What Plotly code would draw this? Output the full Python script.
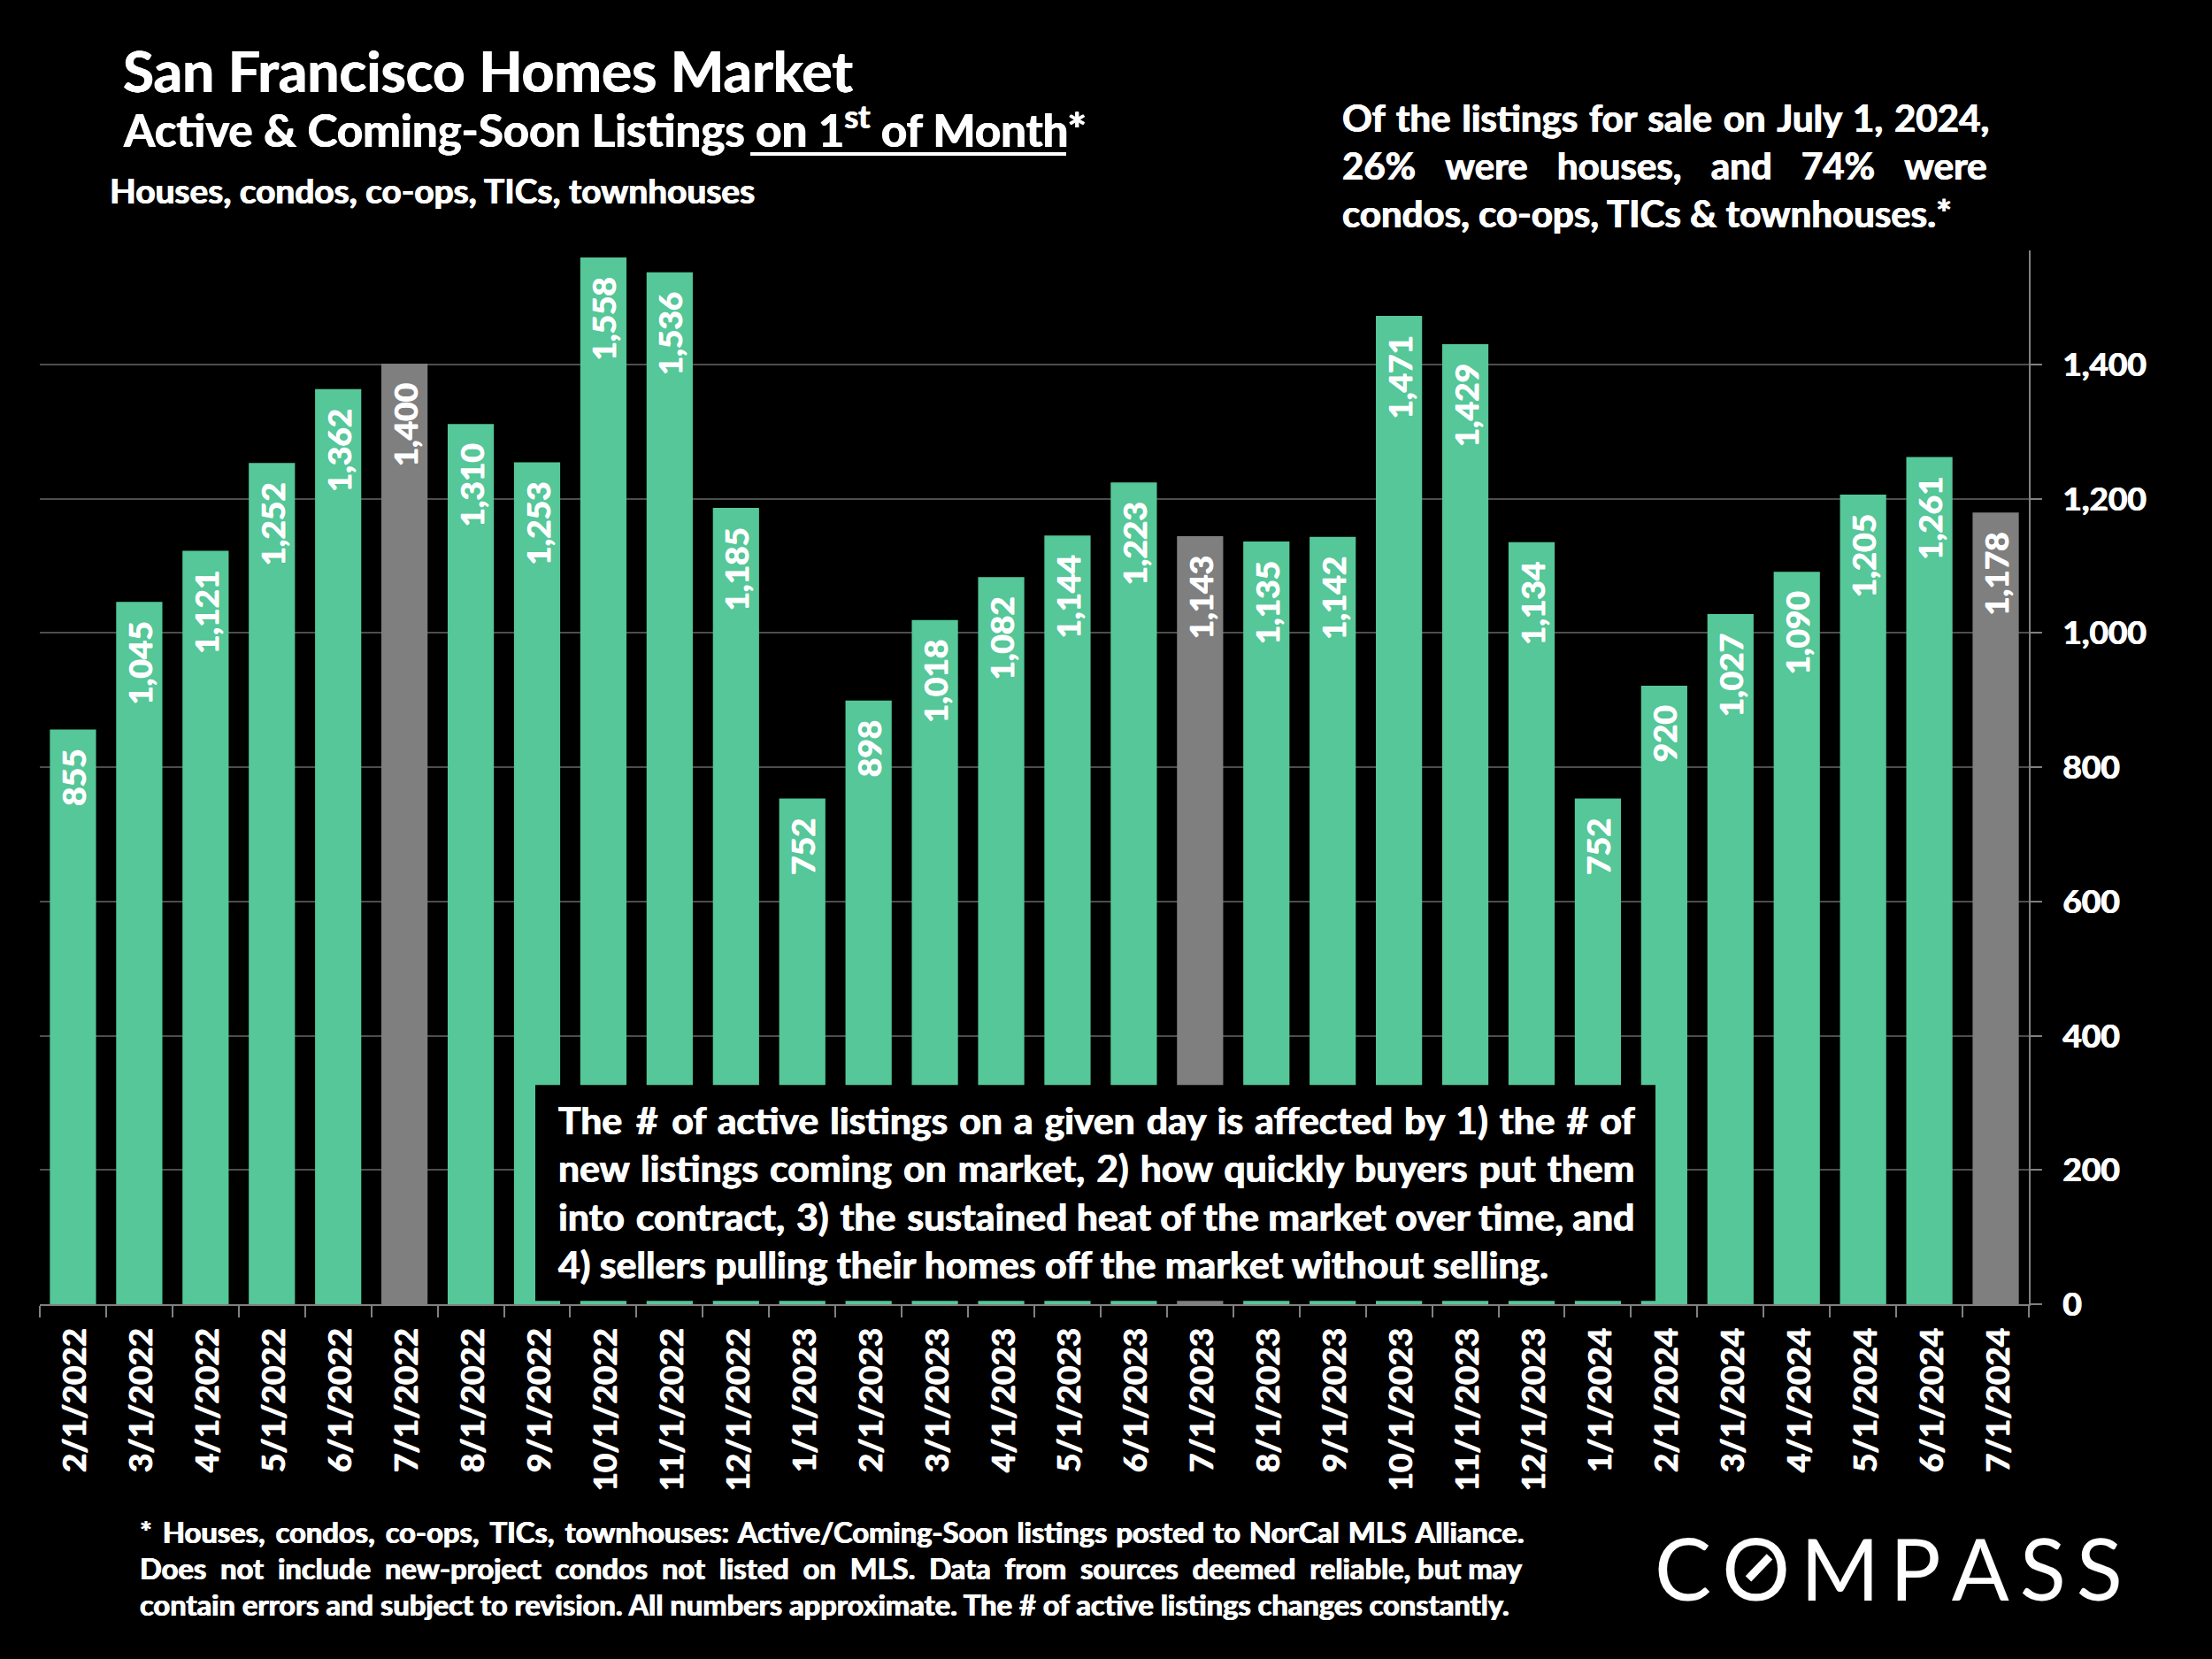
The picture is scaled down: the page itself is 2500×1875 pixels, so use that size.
import plotly.graph_objects as go

months = ["2/1/2022","3/1/2022","4/1/2022","5/1/2022","6/1/2022","7/1/2022","8/1/2022","9/1/2022","10/1/2022","11/1/2022","12/1/2022",
          "1/1/2023","2/1/2023","3/1/2023","4/1/2023","5/1/2023","6/1/2023","7/1/2023","8/1/2023","9/1/2023","10/1/2023","11/1/2023","12/1/2023",
          "1/1/2024","2/1/2024","3/1/2024","4/1/2024","5/1/2024","6/1/2024","7/1/2024"]
listings = [855,1045,1121,1252,1362,1400,1310,1253,1558,1536,1185,
            752,898,1018,1082,1144,1223,1143,1135,1142,1471,1429,1134,
            752,920,1027,1090,1205,1261,1178]
highlight_months = ["7/1/2022","7/1/2023","7/1/2024"]
y_ticks = [0,200,400,600,800,1000,1200,1400]

GREEN = "#55C798"; GREY = "#7F7F7F"
FONT = "Lato"
L, R, T, B = 45, 2293, 283, 1473.7
BOLDER = "0.6px 0 0 white, -0.6px 0 0 white"
def px(x): return (x-L)/(R-L)
def py(y): return (B-y)/(B-T)

HAIR = "\u200a"; NB = "\u00a0"
def sp(line, extra="", count=-1):
    return line.replace(" ", " " + extra, count)

colors = [GREY if m in highlight_months else GREEN for m in months]
fig = go.Figure(go.Bar(
    x=months, y=listings, marker=dict(color=colors, line=dict(color=colors, width=2)),
    texttemplate="%{y:,}\u00a0\u00a0", textposition="inside", insidetextanchor="end",
    textangle=-90, constraintext="none", cliponaxis=False,
    insidetextfont=dict(family=FONT, size=37, color="white", weight=700, shadow=BOLDER), hoverinfo="skip"))

texts = [
 ("San Francisco Homes Market", 137, 80, 64),
 ("Active & Coming-Soon Listings on 1<sup>st</sup> of Month*", 137, 144, 51.1),
 ("Houses, condos, co-ops, TICs, townhouses", 122, 215, 38.8),
 (sp("Of the listings for sale on July 1, 2024,", HAIR), 1515, 133, 42),
 (sp("26% were houses, and 74% were", NB*2+HAIR), 1515, 187, 42),
 ("condos, co-ops, TICs & townhouses.*", 1515, 241, 42),
 (sp(sp("The # of active listings on a given day is affected by 1) the # of", HAIR), HAIR, 2), 629, 1265, 42.7),
 (sp("new listings coming on market, 2) how quickly buyers put them", HAIR), 629, 1319, 42.7),
 (sp("into contract, 3) the sustained heat of the market over time, and", HAIR, 4), 629, 1374, 42.7),
 ("4) sellers pulling their homes off the market without selling.", 629, 1428, 42.7),
 (sp(sp("* Houses, condos, co-ops, TICs, townhouses: Active/Coming-Soon listings posted to NorCal MLS Alliance.", HAIR), HAIR, 5), 156, 1731, 32.7),
 (sp("Does not include new-project condos not listed on MLS. Data from sources deemed reliable, but may", NB, 13), 156, 1772, 32.7),
 ("contain errors and subject to revision. All numbers approximate. The # of active listings changes constantly.", 156, 1813, 32.7),
]
annos = [dict(text=t, x=px(x), y=py(y), xref="paper", yref="paper", xanchor="left", yanchor="middle",
              showarrow=False, align="left", font=dict(family=FONT, size=s, color="white", weight=700, shadow=BOLDER))
         for t, x, y, s in texts]
annos.append(dict(text="\u2009".join("COMPASS"), x=px(1868), y=py(1771), xref="paper", yref="paper",
                  xanchor="left", yanchor="middle", showarrow=False, font=dict(family=FONT, size=96, color="white", weight=400)))

shapes = [
 dict(type="rect", xref="paper", yref="paper", x0=px(605), x1=px(1871), y0=py(1470), y1=py(1226),
      fillcolor="black", line=dict(width=0), layer="above"),
 dict(type="line", xref="paper", yref="paper", x0=px(848), x1=px(1205), y0=py(174), y1=py(174),
      line=dict(color="white", width=4), layer="above"),
 dict(type="line", xref="paper", yref="paper", x0=px(1976), x1=px(2000), y0=py(1784), y1=py(1759),
      line=dict(color="white", width=9), layer="above"),
]

fig.update_layout(width=2500, height=1875, paper_bgcolor="black", plot_bgcolor="black",
    margin=dict(l=L, r=2500-R, t=T, b=1875-B, autoexpand=False), bargap=0.33, showlegend=False,
    annotations=annos, shapes=shapes, font=dict(family=FONT, color="white"),
    xaxis=dict(type="category", categoryorder="array", categoryarray=months, tickangle=-90, tickson="boundaries",
               ticks="outside", ticklen=13, tickwidth=2, tickcolor="#808080", showline=True, linecolor="#808080", linewidth=2,
               showgrid=False, ticklabelstandoff=10, ticklabelshift=3,
               tickfont=dict(family=FONT, size=37, color="white", weight=700, shadow=BOLDER)),
    yaxis=dict(side="right", range=[0,1570], tickvals=y_ticks, tickformat=",", ticks="outside", ticklen=13, tickwidth=2,
               tickcolor="#808080", showline=True, linecolor="#808080", linewidth=2, gridcolor="#4d4d4d", gridwidth=2,
               zeroline=False, ticklabelstandoff=16, tickfont=dict(family=FONT, size=37, color="white", weight=700, shadow=BOLDER)))
fig.write_html("out.html", config={"displayModeBar": False},
               post_script="document.body.style.margin='0';document.body.style.background='black';")
